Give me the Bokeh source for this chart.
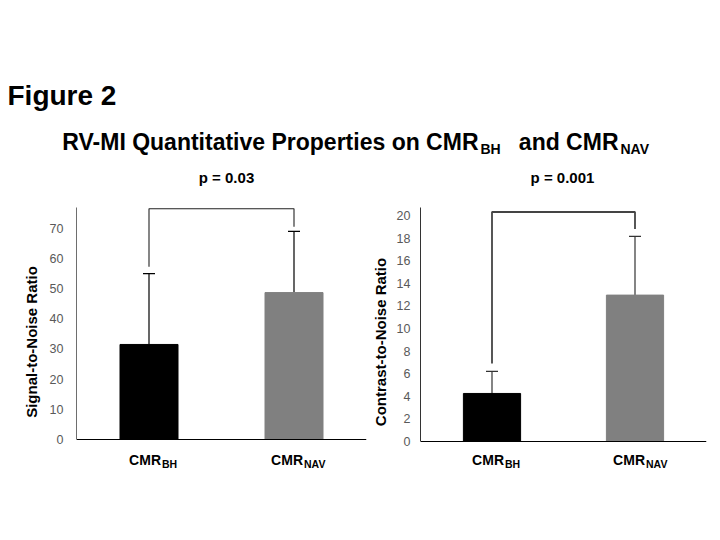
from bokeh.plotting import figure
from bokeh.models import Range1d, FactorRange, Label, ColumnDataSource, Whisker, TeeHead, FixedTicker
from bokeh.layouts import column, row
from bokeh.embed import file_html
from bokeh.resources import INLINE

FONT = "Liberation Sans"

# ---------------- data ----------------
figure_label = "Figure 2"
title_main = "RV-MI Quantitative Properties on CMR"
title_sub1 = "BH"
title_mid = "and CMR"
title_sub2 = "NAV"

categories = ["CMR_BH", "CMR_NAV"]
cat_main = ["CMR", "CMR"]
cat_sub = ["BH", "NAV"]
bar_colors = ["#000000", "#808080"]

snr_mean = [31.5, 48.7]
snr_upper = [55.0, 69.0]
snr_bracket = [57.3, 76.5, 76.5, 70.5]
snr_ticks = [0, 10, 20, 30, 40, 50, 60, 70]
snr_label = "Signal-to-Noise Ratio"
snr_p = "p = 0.03"

cnr_mean = [4.25, 12.95]
cnr_upper = [6.2, 18.15]
cnr_bracket = [6.9, 20.3, 20.3, 18.8]
cnr_ticks = [0, 2, 4, 6, 8, 10, 12, 14, 16, 18, 20]
cnr_label = "Contrast-to-Noise Ratio"
cnr_p = "p = 0.001"

PANEL_TOP = 195  # page y where the panel row starts


def panel(width, height, ymax, bl, br, top_px, zero_px, bottom_px, means, uppers, bracket,
          ticks, ylabel, title_standoff, tick_standoff, axis_color, err_color, br_color,
          br_width, lab_offsets, lab_dy):
    # frame spans page rows top_px..bottom_px; value 0 sits at zero_px
    ymin = -ymax * (bottom_px - zero_px) / (zero_px - top_px)
    bt = top_px - PANEL_TOP
    bb = height - (bottom_px - PANEL_TOP)
    p = figure(width=width, height=height, x_range=FactorRange(*categories),
               y_range=Range1d(ymin, ymax), toolbar_location=None, output_backend="svg",
               min_border_left=bl, min_border_right=br, min_border_top=bt,
               min_border_bottom=bb)
    p.outline_line_color = None
    p.grid.visible = False
    p.background_fill_color = "white"
    p.border_fill_color = "white"

    src = ColumnDataSource(dict(x=categories, top=means, upper=uppers, color=bar_colors))
    p.vbar(x="x", top="top", width=0.4, fill_color="color", line_color="color", source=src)
    w = Whisker(base="x", lower="top", upper="upper", source=src, dimension="height",
                line_color=err_color, line_width=1.2,
                upper_head=TeeHead(size=12, line_color=err_color, line_width=1.2),
                lower_head=None)
    p.add_layout(w)

    bx = [categories[0], categories[0], categories[1], categories[1]]
    p.line(bx, bracket, line_color=br_color, line_width=br_width)

    # axes
    ya = p.yaxis[0]
    ya.ticker = FixedTicker(ticks=ticks)
    ya.bounds = (0, ymax)
    ya.minor_tick_line_color = None
    ya.major_tick_out = 0
    ya.major_tick_in = 0
    ya.axis_line_color = axis_color
    ya.major_label_text_font = FONT
    ya.major_label_text_font_size = "12.5px"
    ya.major_label_text_color = "#595959"
    ya.major_label_standoff = tick_standoff
    ya.axis_label = ylabel
    ya.axis_label_text_font = FONT
    ya.axis_label_text_font_style = "bold"
    ya.axis_label_text_font_size = "15px"
    ya.axis_label_text_color = "black"
    ya.axis_label_standoff = title_standoff

    xa = p.xaxis[0]
    xa.fixed_location = 0
    xa.major_tick_out = 0
    xa.major_tick_in = 0
    xa.minor_tick_line_color = None
    xa.axis_line_color = "black"
    xa.major_label_text_alpha = 0
    xa.major_label_text_font_size = "1px"

    # synthetic categorical coordinates: factor i is centred at i + 0.5
    for i, (main, sub, off) in enumerate(zip(cat_main, cat_sub, lab_offsets)):
        cx = i + 0.5
        p.add_layout(Label(x=cx, y=0, x_offset=off, y_offset=-lab_dy, text=main,
                           text_align="right", text_baseline="alphabetic",
                           text_font=FONT, text_font_style="bold",
                           text_font_size="14px", text_color="black"))
        p.add_layout(Label(x=cx, y=0, x_offset=off + 1, y_offset=-lab_dy - 4, text=sub,
                           text_align="left", text_baseline="alphabetic",
                           text_font=FONT, text_font_style="bold",
                           text_font_size="10.5px", text_color="black"))
    return p


left = panel(368, 337, 76.9, 76, 2, 207, 439, 476, snr_mean, snr_upper, snr_bracket,
             snr_ticks, snr_label, 7, 13, "#6e6e6e", "black", "#222222", 1.1, [12, 9], 20)
right = panel(344, 337, 20.7, 52, 6, 207, 441, 476, cnr_mean, cnr_upper, cnr_bracket,
              cnr_ticks, cnr_label, 5, 10, "#333333", "#333333", "#444444", 1.8, [12, 10], 18)

# ---------------- header ----------------
hdr = figure(width=712, height=PANEL_TOP, x_range=Range1d(0, 712),
             y_range=Range1d(PANEL_TOP, 0), toolbar_location=None, output_backend="svg",
             x_axis_type=None, y_axis_type=None, min_border=0)
hdr.outline_line_color = None
hdr.grid.visible = False


def hlabel(x, y, text, size, align="left"):
    hdr.add_layout(Label(x=x, y=y, text=text, text_align=align, text_baseline="alphabetic",
                         text_font=FONT, text_font_style="bold", text_font_size=size,
                         text_color="black"))


hlabel(7, 95, figure_label, "28px")
hlabel(478, 141, title_main, "23px", "right")
hlabel(480, 148, title_sub1, "14px")
hlabel(618, 141, title_mid, "23px", "right")
hlabel(620, 148, title_sub2, "14px")
hlabel(226, 177, snr_p, "15px", "center")
hlabel(562, 177, cnr_p, "15px", "center")

layout = column(hdr, row(left, right))
open("out.html", "w").write(file_html(layout, INLINE))
